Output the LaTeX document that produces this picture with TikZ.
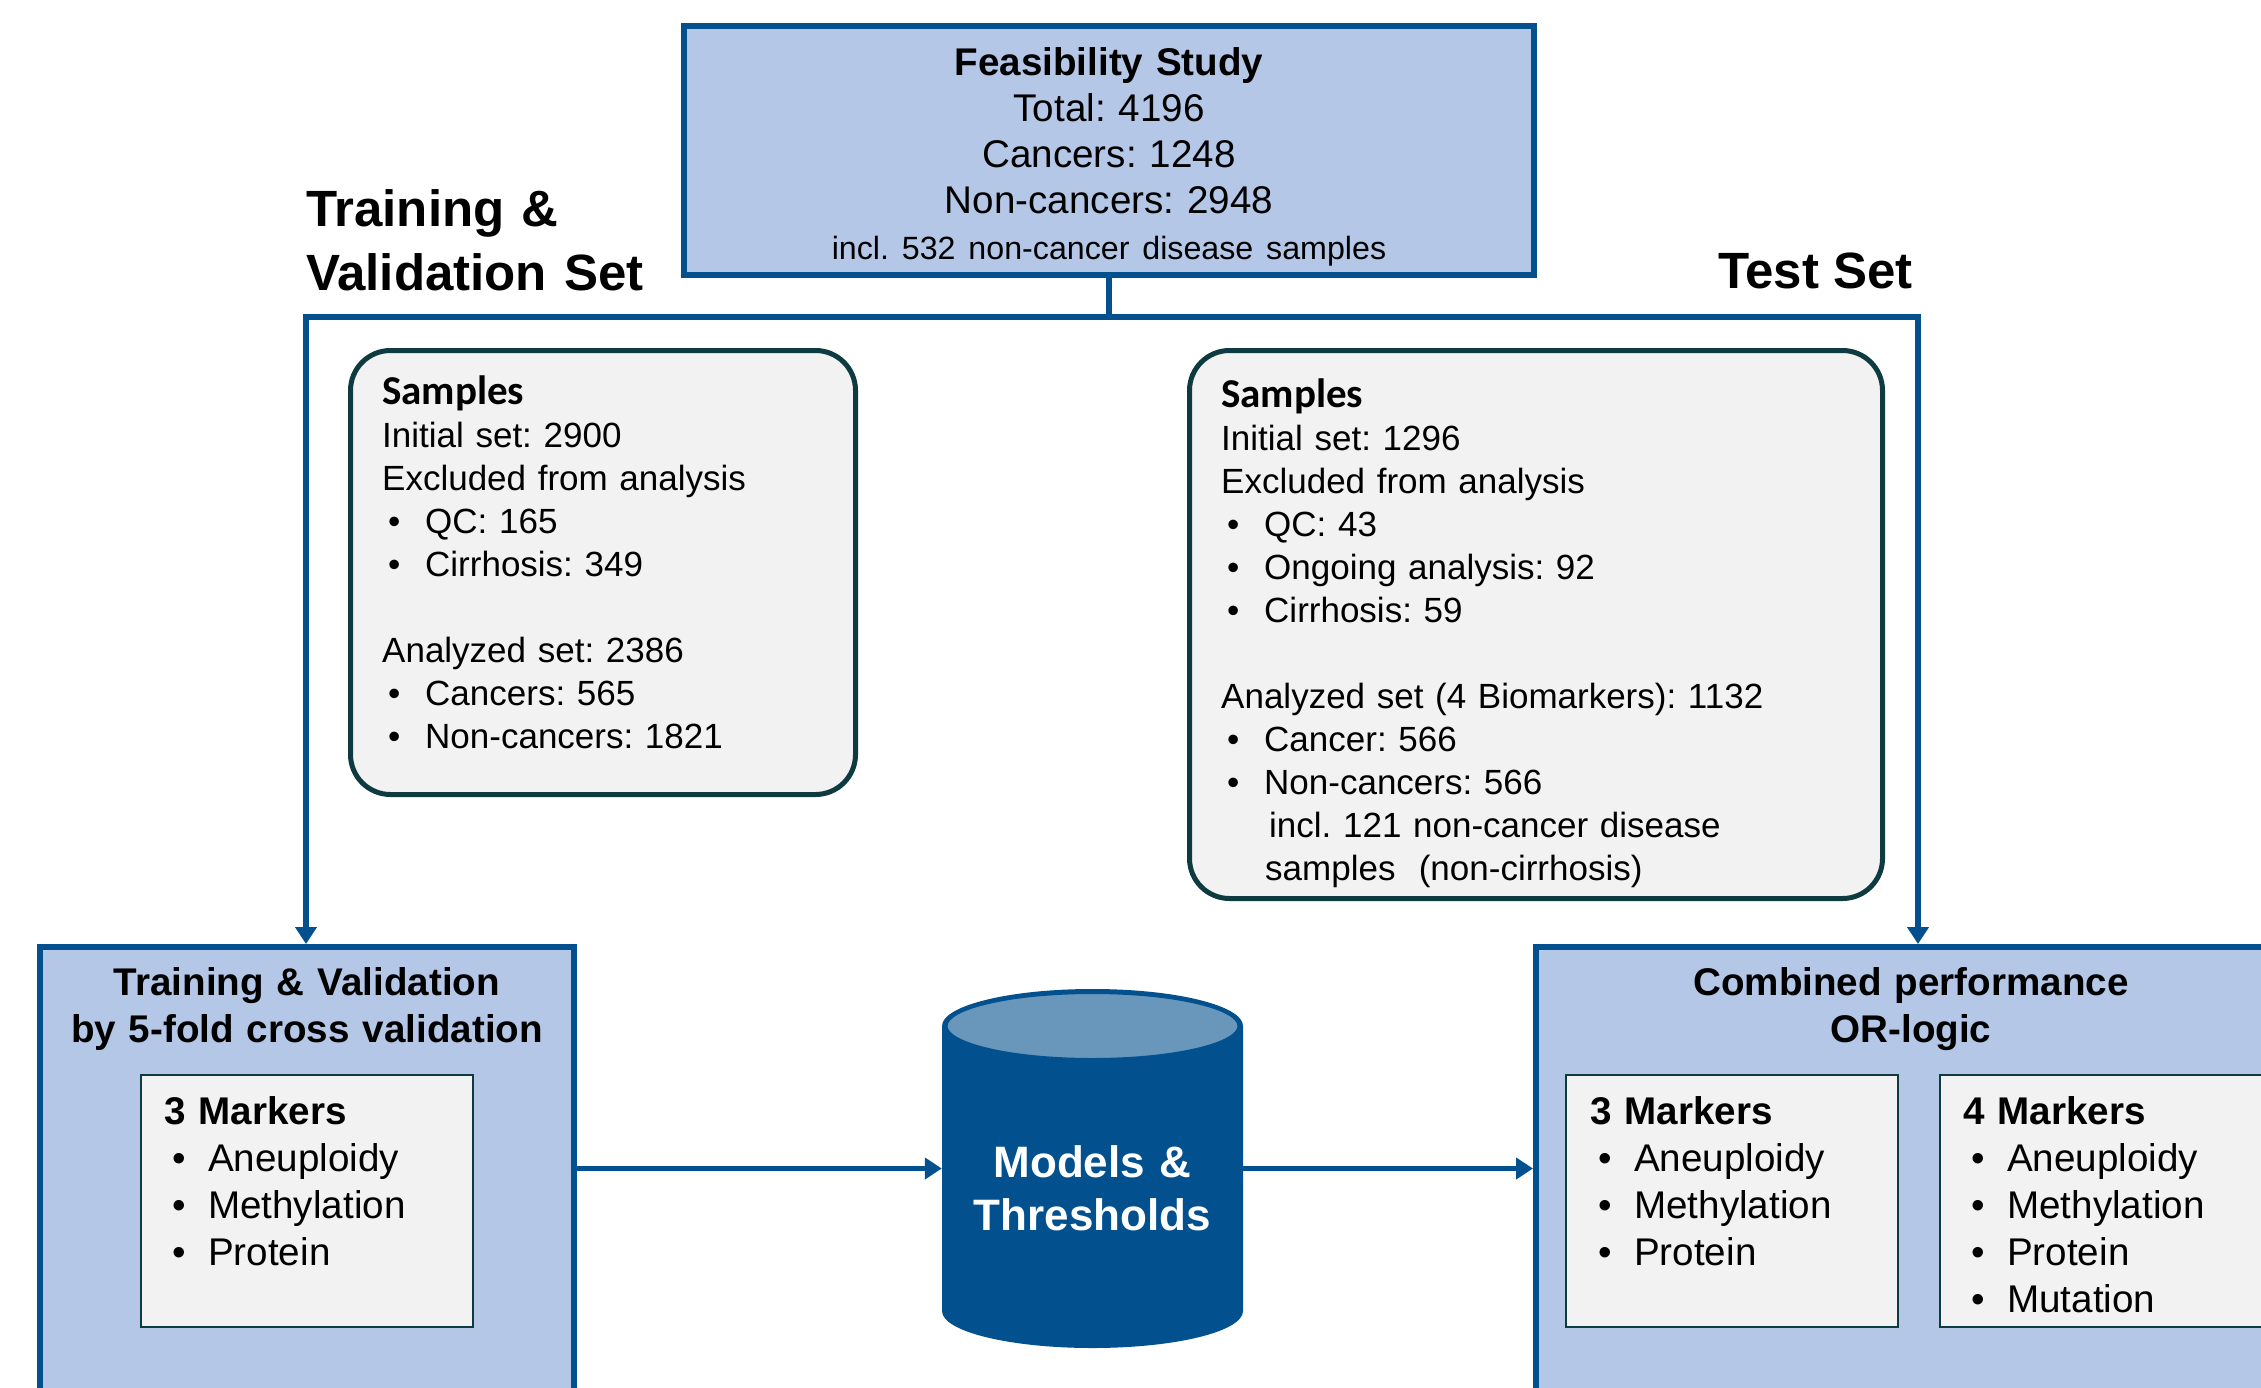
\documentclass[tikz,border=0pt]{standalone}
\usepackage{fontspec}
\setmainfont{Liberation Sans}
\newfontfamily\calib{Carlito}
\usetikzlibrary{arrows.meta}
\definecolor{dblue}{HTML}{03508F}
\definecolor{lblue}{HTML}{B4C7E7}
\definecolor{boxedge}{HTML}{0E3B40}
\definecolor{boxfill}{HTML}{F2F2F2}
\definecolor{cyltop}{HTML}{6897BB}
\newcommand{\bul}{\hspace*{6pt}\makebox[37pt][l]{\textbullet}}
\newcommand{\bulm}{\hspace*{8pt}\makebox[36pt][l]{\textbullet}}
\newcommand{\shead}{{\calib\bfseries\fontsize{41}{43}\selectfont Samples}}
\frenchspacing
\begin{document}
\begin{tikzpicture}[x=1pt,y=-1pt,
  bigbox/.style={draw=dblue, line width=6pt, fill=lblue, inner sep=0pt},
  sampbox/.style={draw=boxedge, line width=5pt, fill=boxfill, rounded corners=40pt, inner sep=0pt},
  mkbox/.style={draw=boxedge, line width=2.5pt, fill=boxfill, inner sep=0pt},
  conn/.style={draw=dblue, line width=5.5pt},
  arr/.style={conn, -{Triangle[length=17pt,width=21pt]}},
  stxt/.style={anchor=base west, inner sep=0pt, text width=640pt, align=left, font=\fontsize{35}{43}\selectfont},
  mtxt/.style={anchor=base west, inner sep=0pt, text width=320pt, align=left, font=\fontsize{38.6}{47}\selectfont},
  ttl/.style={anchor=base, inner sep=0pt, text width=600pt, align=center, font=\bfseries\fontsize{38.6}{47}\selectfont},
  biglab/.style={inner sep=0pt, font=\bfseries\fontsize{51}{64}\selectfont}]
\clip (0,0) rectangle (2261,1388);
\fill[white] (0,0) rectangle (2261,1388);

% Feasibility study
\node[bigbox, minimum width=850pt, minimum height=249pt] (feas) at (1109,150.5) {};
\node[anchor=base, inner sep=0pt, text width=820pt, align=center, font=\fontsize{38.6}{46}\selectfont] (feastxt) at (1109,76)
  {\textbf{Feasibility Study}\\Total: 4196\\Cancers: 1248\\Non-cancers: 2948\\{\fontsize{32.2}{46}\selectfont incl. 532 non-cancer disease samples}};

% Set labels
\node[biglab, anchor=base west, text width=420pt, align=left] (tvlab) at (306,227) {Training \&\\Validation Set};
\node[biglab, anchor=base east] (testlab) at (1913,288) {Test Set};

% Samples boxes
\node[sampbox, minimum width=505pt, minimum height=444pt] (sampL) at (603,572.5) {};
\node[stxt] (sampLt) at (382,404)
  {\shead\\Initial set: 2900\\Excluded from analysis\\\bul QC: 165\\\bul Cirrhosis: 349\\[43pt]Analyzed set: 2386\\\bul Cancers: 565\\\bul Non-cancers: 1821};

\node[sampbox, minimum width=693pt, minimum height=548pt] (sampR) at (1536,624.5) {};
\node[stxt] (sampRt) at (1221,407)
  {\shead\\Initial set: 1296\\Excluded from analysis\\\bul QC: 43\\\bul Ongoing analysis: 92\\\bul Cirrhosis: 59\\[43pt]Analyzed set (4 Biomarkers): 1132\\\bul Cancer: 566\\\bul Non-cancers: 566\\\hspace*{48pt}incl. 121 non-cancer disease\\\hspace*{44pt}samples\ \ (non-cirrhosis)};

% Bottom left box
\node[bigbox, minimum width=534pt, minimum height=480pt] (tvbox) at (307,1187) {};
\node[ttl] (tvtitle) at (307,995) {Training \& Validation\\by 5-fold cross validation};
\node[mkbox, minimum width=332pt, minimum height=252pt] (mkL) at (307,1201) {};
\node[mtxt] (mkLt) at (164,1124) {\textbf{3 Markers}\\\bulm Aneuploidy\\\bulm Methylation\\\bulm Protein};

% Cylinder
\fill[dblue] (942,1026) -- (942,1311) arc[start angle=180, end angle=360, x radius=150.5pt, y radius=37pt]
  -- (1243,1026) arc[start angle=0, end angle=180, x radius=150.5pt, y radius=37pt] -- cycle;
\filldraw[fill=cyltop, draw=dblue, line width=4pt] (1092.5,1026) ellipse [x radius=147pt, y radius=34pt];
\node[minimum width=301pt, minimum height=359pt, inner sep=0pt] (cyl) at (1092.5,1168.5) {};
\node[anchor=base, inner sep=0pt, text width=300pt, align=center, text=white, font=\bfseries\fontsize{44}{53}\selectfont] (cyltxt) at (1092.5,1177) {Models \&\\Thresholds};

% Bottom right box
\node[bigbox, minimum width=784pt, minimum height=480pt] (cpbox) at (1928,1187) {};
\node[ttl] (cptitle) at (1911,995) {Combined performance\\OR-logic};
\node[mkbox, minimum width=332pt, minimum height=252pt] (mkR3) at (1732,1201) {};
\node[mtxt] (mkR3t) at (1590,1124) {\textbf{3 Markers}\\\bulm Aneuploidy\\\bulm Methylation\\\bulm Protein};
\node[mkbox, minimum width=350pt, minimum height=252pt] (mkR4) at (2115,1201) {};
\node[mtxt] (mkR4t) at (1963,1124) {\textbf{4 Markers}\\\bulm Aneuploidy\\\bulm Methylation\\\bulm Protein\\\bulm Mutation};

% Connectors
\coordinate (jn) at (1109,317);
\coordinate (jl) at (306,317);
\coordinate (jr) at (1918,317);
\draw[conn] (feas.south) -- (jn);
\draw[arr] (jn) -- (jl) -- (jl |- tvbox.north);
\draw[arr] (jn) -- (jr) -- (jr |- cpbox.north);
\draw[arr] (tvbox.east |- cyl.west) -- (cyl.west);
\draw[arr] (cyl.east) -- (cyl.east -| cpbox.west);
\end{tikzpicture}
\end{document}
